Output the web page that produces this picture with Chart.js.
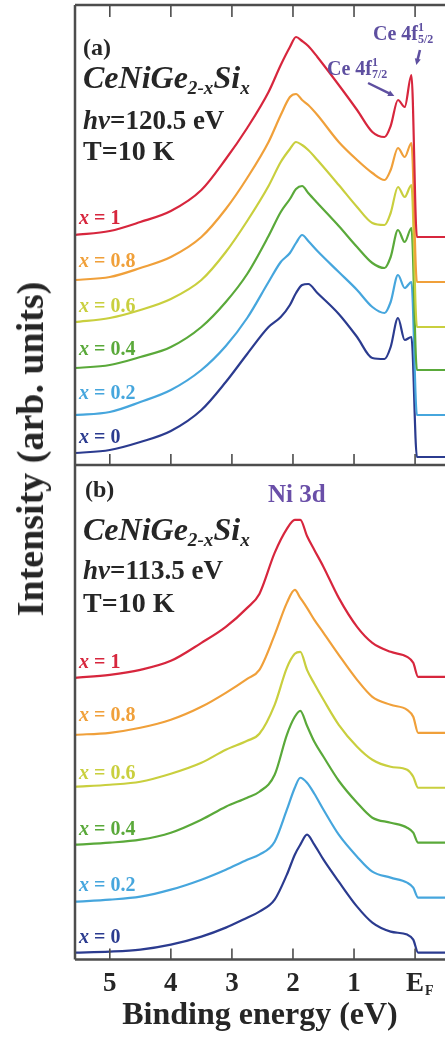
<!DOCTYPE html>
<html>
<head>
<meta charset="utf-8">
<title>CeNiGe2-xSix resonant photoemission</title>
<script src="https://cdn.jsdelivr.net/npm/chart.js@4.4.1/dist/chart.umd.min.js"></script>
<style>
  html, body { margin: 0; padding: 0; background: #fff; }
  #fig {
    position: relative; width: 445px; height: 1038px; overflow: hidden;
    font-family: "Liberation Serif", "DejaVu Serif", serif; font-weight: bold; color: #262626;
  }
  canvas { position: absolute; left: 0; }
  #chartA { top: 0; }
  #chartB { top: 460px; }
  .txt { position: absolute; white-space: nowrap; line-height: 1; }
  .txt i { font-style: italic; }
  .sub { font-size: 0.6em; position: relative; top: 0.3em; }
  .ce { color: #5e4fa0; font-size: 20px; }
  .ce .ss { display: inline-block; font-size: 12px; line-height: 1; vertical-align: top; position: relative; top: -2px; }
  .ce .ss span { display: block; }
  #ytitle {
    position: absolute; left: 30px; top: 449px; font-size: 38px; white-space: nowrap; line-height: 1;
    transform: translate(-50%, -50%) rotate(-90deg);
  }
</style>
</head>
<body>
<div id="fig">
  <canvas id="chartA" width="445" height="470"></canvas>
  <canvas id="chartB" width="445" height="573"></canvas>
  <div id="ytitle">Intensity (arb. units)</div>

  <div class="txt" style="left:83px; top:35px; font-size:24px;">(a)</div>
  <div class="txt" style="left:83px; top:61px; font-size:32px;"><i>CeNiGe<span class="sub">2-x</span>Si<span class="sub">x</span></i></div>
  <div class="txt" style="left:83px; top:107px; font-size:27px;"><i>h&nu;</i>=120.5 eV</div>
  <div class="txt" style="left:83px; top:137px; font-size:28px;">T=10 K</div>
  <div class="txt ce" style="left:327px; top:58px;">Ce 4f<span class="ss"><span>1</span><span>7/2</span></span></div>
  <div class="txt ce" style="left:373px; top:23px;">Ce 4f<span class="ss"><span>1</span><span>5/2</span></span></div>

  <div class="txt" style="left:85px; top:477px; font-size:24px;">(b)</div>
  <div class="txt" style="left:268px; top:481px; font-size:25px; color:#6a4fa8;">Ni 3d</div>
  <div class="txt" style="left:83px; top:513px; font-size:32px;"><i>CeNiGe<span class="sub">2-x</span>Si<span class="sub">x</span></i></div>
  <div class="txt" style="left:83px; top:557px; font-size:27px;"><i>h&nu;</i>=113.5 eV</div>
  <div class="txt" style="left:83px; top:589px; font-size:28px;">T=10 K</div>
</div>

<script>
// composition of each spectrum, top to bottom
const compValues = ["1", "0.8", "0.6", "0.4", "0.2", "0"]
const compColors = ["#d7263d", "#f0a03a", "#c9cf3e", "#5aa93a", "#46a6dd", "#2b3b8f"]

// binding energy (eV), x axis runs from high BE on the left to E_F on the right
const xMin = -0.49
const xMax = 5.57
const xTickValues = [0, 1, 2, 3, 4, 5]
const xTickLabels = ["E", "1", "2", "3", "4", "5"]

// (a) hv = 120.5 eV, stacked intensities (arb. units, offsets included)
const energyA = [5.57, 5.0, 4.5, 4.0, 3.5, 3.1, 2.75, 2.4, 2.2, 2.05, 1.95, 1.85, 1.75, 1.6, 1.25, 0.95, 0.7, 0.5, 0.4, 0.28, 0.17, 0.06, -0.03, -0.49]
const a_x1 = [230, 234, 243, 254, 275, 306, 337, 373, 400, 418, 428, 424, 419, 408, 380, 355, 333, 328, 339, 365, 358, 390, 228, 228]
const a_x08 = [185, 188, 197, 208, 228, 256, 287, 323, 350, 368, 371, 365, 360, 350, 323, 305, 292, 285, 295, 317, 308, 322, 183, 183]
const a_x06 = [143, 147, 155, 166, 185, 213, 244, 279, 303, 316, 323, 320, 315, 305, 280, 258, 242, 240, 252, 278, 268, 280, 138, 138]
const a_x04 = [97, 100, 108, 118, 138, 163, 191, 229, 253, 266, 276, 279, 272, 262, 239, 218, 202, 197, 208, 235, 223, 237, 95, 95]
const a_x02 = [50, 53, 63, 75, 95, 119, 147, 183, 203, 212, 222, 230, 224, 214, 193, 175, 158, 152, 163, 190, 177, 183, 50, 50]
const a_x0 = [12, 15, 23, 34, 55, 83, 111, 138, 148, 160, 172, 180, 181, 172, 151, 128, 107, 106, 118, 147, 125, 128, 8, 8]

// (b) hv = 113.5 eV
const energyB = [5.57, 5.0, 4.5, 4.0, 3.5, 3.1, 2.75, 2.55, 2.3, 2.1, 1.97, 1.88, 1.77, 1.65, 1.5, 1.25, 0.95, 0.7, 0.4, 0.13, 0.03, -0.05, -0.49]
const b_x1 = [282, 285, 290, 299, 317, 333, 352, 366, 407, 431, 440, 440, 424, 410, 393, 362, 333, 317, 308, 303, 297, 283, 283]
const b_x08 = [225, 227, 232, 240, 253, 267, 281, 290, 325, 357, 370, 362, 352, 340, 327, 305, 280, 263, 255, 250, 243, 227, 227]
const b_x06 = [173, 175, 178, 186, 197, 210, 219, 226, 255, 292, 306, 308, 290, 276, 260, 235, 213, 200, 193, 190, 183, 172, 172]
const b_x04 = [115, 117, 120, 127, 140, 153, 162, 168, 185, 225, 243, 249, 234, 218, 203, 179, 157, 142, 137, 132, 127, 117, 117]
const b_x02 = [58, 60, 63, 70, 80, 90, 100, 105, 118, 150, 172, 182, 177, 166, 150, 125, 103, 88, 82, 77, 72, 62, 62]
const b_x0 = [7, 8, 10, 15, 23, 32, 42, 48, 60, 85, 105, 115, 125, 115, 100, 78, 53, 37, 28, 25, 20, 7, 7]

// where the "x = ..." labels sit (same units as the intensities)
const labelLevelsA = [248, 205, 160, 117, 73, 29]
const labelLevelsB = [299, 246, 188, 132, 76, 24]

// arrows pointing at the Ce 4f peaks in (a): [fromE, fromI, toE, toI]
const ceArrows = [
  [0.77, 382, 0.34, 369],
  [-0.08, 415, -0.02, 400],
]

const FONT = "'Liberation Serif', 'DejaVu Serif', serif"

function buildDatasets(energy, series) {
  return series.map((vals, k) => ({
    label: "x = " + compValues[k],
    data: energy.map((e, i) => ({ x: e, y: vals[i] })),
    borderColor: compColors[k],
    borderWidth: 2.2,
    pointRadius: 0,
    cubicInterpolationMode: "monotone",
    fill: false,
  }))
}

// frame lines and inward tick marks
const framePlugin = {
  id: "frame",
  afterDraw(chart, args, opts) {
    const { ctx, chartArea: a } = chart
    const xs = chart.scales.x
    ctx.save()
    ctx.strokeStyle = "#4d4d4d"
    ctx.lineWidth = 2.5
    ctx.beginPath()
    ctx.moveTo(a.left, a.top)
    ctx.lineTo(a.left, a.bottom)
    ctx.moveTo(a.left, a.bottom)
    ctx.lineTo(a.right, a.bottom)
    if (opts.top) {
      ctx.moveTo(a.left, a.top)
      ctx.lineTo(a.right, a.top)
    }
    ctx.stroke()
    ctx.lineWidth = 1.6
    ctx.beginPath()
    xTickValues.forEach((v) => {
      const px = xs.getPixelForValue(v)
      ctx.moveTo(px, a.bottom)
      ctx.lineTo(px, a.bottom - 11)
      if (opts.top) {
        ctx.moveTo(px, a.top)
        ctx.lineTo(px, a.top + 12)
      }
    })
    ctx.stroke()

    // subscript F for the E_F tick label
    if (opts.fermiSub) {
      const px = xs.getPixelForValue(0)
      ctx.fillStyle = "#262626"
      ctx.font = "bold 14px " + FONT
      ctx.textAlign = "left"
      ctx.textBaseline = "middle"
      ctx.fillText("F", px + 10, a.bottom + 8 + 16 + 8)
    }

    // annotation arrows
    if (opts.arrows) {
      const ys = chart.scales.y
      ctx.strokeStyle = "#5e4fa0"
      ctx.fillStyle = "#5e4fa0"
      ctx.lineWidth = 2.5
      opts.arrows.forEach(([e0, i0, e1, i1]) => {
        const x0 = xs.getPixelForValue(e0), y0 = ys.getPixelForValue(i0)
        const x1 = xs.getPixelForValue(e1), y1 = ys.getPixelForValue(i1)
        const ang = Math.atan2(y1 - y0, x1 - x0)
        ctx.beginPath()
        ctx.moveTo(x0, y0)
        ctx.lineTo(x1 - 4 * Math.cos(ang), y1 - 4 * Math.sin(ang))
        ctx.stroke()
        ctx.beginPath()
        ctx.moveTo(x1, y1)
        ctx.lineTo(x1 - 7 * Math.cos(ang - 0.45), y1 - 7 * Math.sin(ang - 0.45))
        ctx.lineTo(x1 - 7 * Math.cos(ang + 0.45), y1 - 7 * Math.sin(ang + 0.45))
        ctx.closePath()
        ctx.fill()
      })
    }
    ctx.restore()
  },
}

function xScale(show) {
  return {
    type: "linear",
    display: show,
    reverse: true,
    min: xMin,
    max: xMax,
    afterBuildTicks: (scale) => {
      scale.ticks = xTickValues.map((v) => ({ value: v }))
    },
    grid: { drawOnChartArea: false, drawTicks: false },
    border: { display: false },
    ticks: {
      padding: 8,
      color: "#262626",
      font: { family: FONT, size: 27, weight: "bold" },
      callback: (v) => xTickLabels[xTickValues.indexOf(v)],
    },
    title: {
      display: show,
      text: "Binding energy (eV)",
      color: "#262626",
      padding: { top: -8, bottom: 0 },
      font: { family: FONT, size: 32, weight: "bold", lineHeight: 1 },
    },
  }
}

function makeChart(id, energy, series, yMax, frameOpts, showX, bottomPad) {
  return new Chart(document.getElementById(id), {
    type: "line",
    data: { datasets: buildDatasets(energy, series) },
    options: {
      responsive: false,
      animation: false,
      layout: { padding: { left: 75, top: 5, right: 0, bottom: bottomPad } },
      plugins: { legend: { display: false }, tooltip: { enabled: false }, frame: frameOpts },
      scales: {
        x: xScale(showX),
        y: { type: "linear", display: false, min: 0, max: yMax },
      },
    },
    plugins: [framePlugin],
  })
}

const chartA = makeChart("chartA", energyA, [a_x1, a_x08, a_x06, a_x04, a_x02, a_x0], 460,
  { top: true, arrows: ceArrows }, false, 5)
const chartB = makeChart("chartB", energyB, [b_x1, b_x08, b_x06, b_x04, b_x02, b_x0], 495,
  { top: false, fermiSub: true }, true, 1)

// "x = ..." labels, placed through each chart's y scale
function addCompLabels(chart, levels, canvasTop) {
  const fig = document.getElementById("fig")
  levels.forEach((lvl, k) => {
    const div = document.createElement("div")
    div.className = "txt"
    div.style.left = "79px"
    div.style.fontSize = "20px"
    div.style.color = compColors[k]
    div.style.top = canvasTop + chart.scales.y.getPixelForValue(lvl) - 10 + "px"
    div.innerHTML = "<i>x</i> = " + compValues[k]
    fig.appendChild(div)
  })
}
addCompLabels(chartA, labelLevelsA, 0)
addCompLabels(chartB, labelLevelsB, 460)
</script>
</body>
</html>
